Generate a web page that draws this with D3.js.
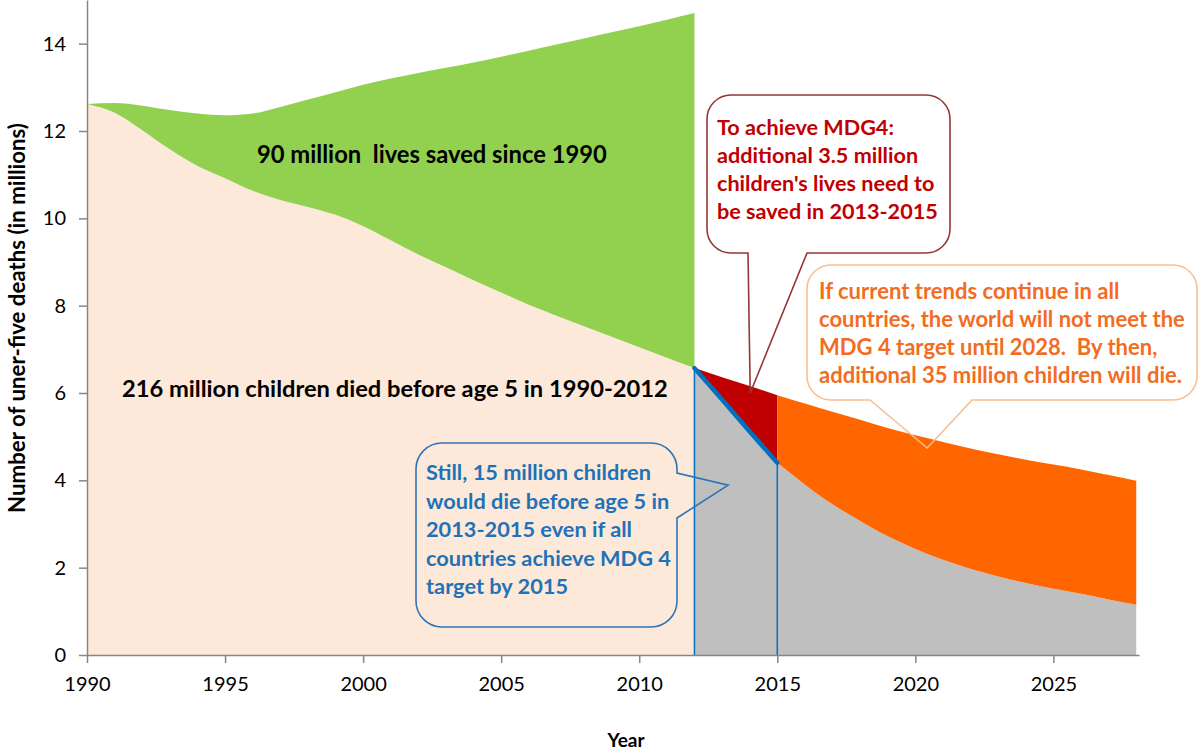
<!DOCTYPE html>
<html><head><meta charset="utf-8">
<script src="https://cdn.jsdelivr.net/npm/d3@7"></script>
<style>body{margin:0;background:#fff}svg{display:block}text{font-family:Lato,"Open Sans",sans-serif}</style>
</head><body>
<svg id="c" width="1200" height="750"></svg>
<script>
// ---- data ----
const historyYears = [1990,1991,1992,1993,1994,1995,1996,1997,1998,1999,2000,2001,2002,2003,2004,2005,2006,2007,2008,2009,2010,2011,2012];
const noProgressDeaths = [12.62,12.64,12.58,12.48,12.40,12.36,12.40,12.55,12.72,12.89,13.06,13.20,13.33,13.45,13.57,13.70,13.84,13.98,14.12,14.26,14.40,14.55,14.70];
const actualDeaths = [12.62,12.42,12.02,11.58,11.20,10.92,10.63,10.42,10.26,10.08,9.82,9.50,9.17,8.88,8.58,8.30,8.02,7.77,7.53,7.29,7.05,6.81,6.57];
const targetYears = [2012,2013,2014,2015];
const targetDeaths = [6.57,5.85,5.12,4.40];
const trendYears = [2012,2013,2014,2015,2016,2017,2018,2019,2020,2021,2022,2023,2024,2025,2026,2027,2028];
const trendDeaths = [6.57,6.36,6.16,5.95,5.76,5.57,5.39,5.20,5.03,4.88,4.73,4.60,4.47,4.36,4.25,4.12,3.99];
const projYears = [2015,2016,2017,2018,2019,2020,2021,2022,2023,2024,2025,2026,2027,2028];
const targetProjDeaths = [4.40,3.90,3.45,3.07,2.72,2.43,2.18,1.97,1.80,1.65,1.52,1.40,1.27,1.15];
const xTicks = [1990,1995,2000,2005,2010,2015,2020,2025];
const yTicks = [0,2,4,6,8,10,12,14];

const svg = d3.select("#c");
const x = d3.scaleLinear().domain([1990, 2028.1]).range([87, 1139]);
const y = d3.scaleLinear().domain([0, 15]).range([655, 0]);

const C = {pink:"#FDE9D9", green:"#92D050", gray:"#BFBFBF", red:"#C00000", orange:"#FF6600", blue:"#0070C0", axis:"#868686"};

function band(xs, lo, hi, curve){
  const pts = xs.map((v,i)=>({x:v, lo: lo?lo[i]:0, hi: hi[i]}));
  return d3.area().x(d=>x(d.x)).y0(d=>y(d.lo)).y1(d=>y(d.hi)).curve(curve)(pts);
}
const mono = d3.curveMonotoneX, lin = d3.curveLinear;

svg.append("path").attr("d", band(historyYears, null, actualDeaths, mono)).attr("fill", C.pink);
svg.append("path").attr("d", band(historyYears, actualDeaths, noProgressDeaths, mono)).attr("fill", C.green);
svg.append("path").attr("d", band(targetYears, null, targetDeaths, lin)).attr("fill", C.gray);
svg.append("path").attr("d", band(projYears, null, targetProjDeaths, mono)).attr("fill", C.gray);
svg.append("path").attr("d", band(targetYears, targetDeaths, trendDeaths.slice(0,4), lin)).attr("fill", C.red);
svg.append("path").attr("d", band(projYears, targetProjDeaths, trendDeaths.slice(3), mono)).attr("fill", C.orange);

// blue target lines
[[targetYears[0], targetDeaths[0]], [targetYears[3], targetDeaths[3]]].forEach(([yr,v])=>{
  svg.append("line").attr("x1",x(yr)).attr("x2",x(yr)).attr("y1",y(0)).attr("y2",y(v))
    .attr("stroke",C.blue).attr("stroke-width",1.5);
});
svg.append("path").attr("d", d3.line().x((d,i)=>x(targetYears[i])).y(d=>y(d))(targetDeaths))
  .attr("fill","none").attr("stroke",C.blue).attr("stroke-width",4.5).attr("stroke-linecap","round");

// axes
const gx = svg.append("g").attr("transform",`translate(0,${y(0)})`)
  .call(d3.axisBottom(x).tickValues(xTicks).tickFormat(d3.format("d")).tickSize(8).tickSizeOuter(0).tickPadding(14));
const gy = svg.append("g").attr("transform",`translate(${x(1990)},0)`)
  .call(d3.axisLeft(y).tickValues(yTicks).tickSize(8).tickSizeOuter(0).tickPadding(13));
[gx,gy].forEach(g=>{
  g.select(".domain").attr("stroke",C.axis).attr("stroke-width",1.5);
  g.selectAll(".tick line").attr("stroke",C.axis).attr("stroke-width",1.5);
  g.selectAll(".tick text").attr("font-size",20).attr("fill","#000").attr("font-family","Lato");
});

// text fitting helper
function block(lines, x0, y0, dy, width, color, anchor){
  const g = svg.append("g");
  const ts = lines.map((s,i)=>g.append("text").attr("x",x0).attr("y",y0+i*dy)
     .attr("font-weight","bold").attr("font-size",20).attr("fill",color)
     .attr("text-anchor",anchor||"start").style("white-space","pre").text(s));
  const w = d3.max(ts, t=>t.node().getComputedTextLength());
  ts.forEach(t=>t.attr("font-size", 20*width/w));
  return g;
}

block(["90 million  lives saved since 1990"], 257, 163, 0, 350, "#000");
block(["216 million children died before age 5 in 1990-2012"], 122, 397, 0, 546, "#000");

// callouts
function callout(x0,y0,x1,y1,r,side,a,b,tip,stroke){
  let p = `M${x0+r},${y0}H${x1-r}A${r},${r} 0 0 1 ${x1},${y0+r}`;
  if(side==="right") p += `V${a}L${tip[0]},${tip[1]}L${x1},${b}`;
  p += `V${y1-r}A${r},${r} 0 0 1 ${x1-r},${y1}`;
  if(side==="bottom") p += `H${b}L${tip[0]},${tip[1]}L${a},${y1}`;
  p += `H${x0+r}A${r},${r} 0 0 1 ${x0},${y1-r}V${y0+r}A${r},${r} 0 0 1 ${x0+r},${y0}Z`;
  svg.append("path").attr("d",p).attr("fill","none").attr("stroke",stroke).attr("stroke-width",1.6);
}
callout(707,95,950,253,24,"bottom",748,807,[x(2014.02),y(6.0)],"#953735");
callout(807,265,1197,400,24,"bottom",870,972,[x(2020.43),y(4.74)],"#F9BF8F");
callout(416,443,677,627,26,"right",473,518,[x(2013.22),y(3.89)],"#2E75B6");

block(["To achieve MDG4:","additional 3.5 million","children's lives need to","be saved in 2013-2015"], 717, 135, 28, 221, "#C00000");
block(["If current trends continue in all","countries, the world will not meet the","MDG 4 target until 2028.  By then,","additional 35 million children will die."], 819, 299, 28, 366, "#F26D1F");
block(["Still, 15 million children","would die before age 5 in","2013-2015 even if all","countries achieve MDG 4","target by 2015"], 426, 480, 28.5, 245, "#1F72B8");

// axis titles
const yt = block(["Number of uner-five deaths (in millions)"], 0, 0, 0, 390, "#000", "middle");
yt.attr("transform","translate(25,318) rotate(-90)");
svg.append("text").attr("x",626).attr("y",747).attr("text-anchor","middle")
  .attr("font-weight","bold").attr("font-size",19).text("Year");
</script>
</body></html>
